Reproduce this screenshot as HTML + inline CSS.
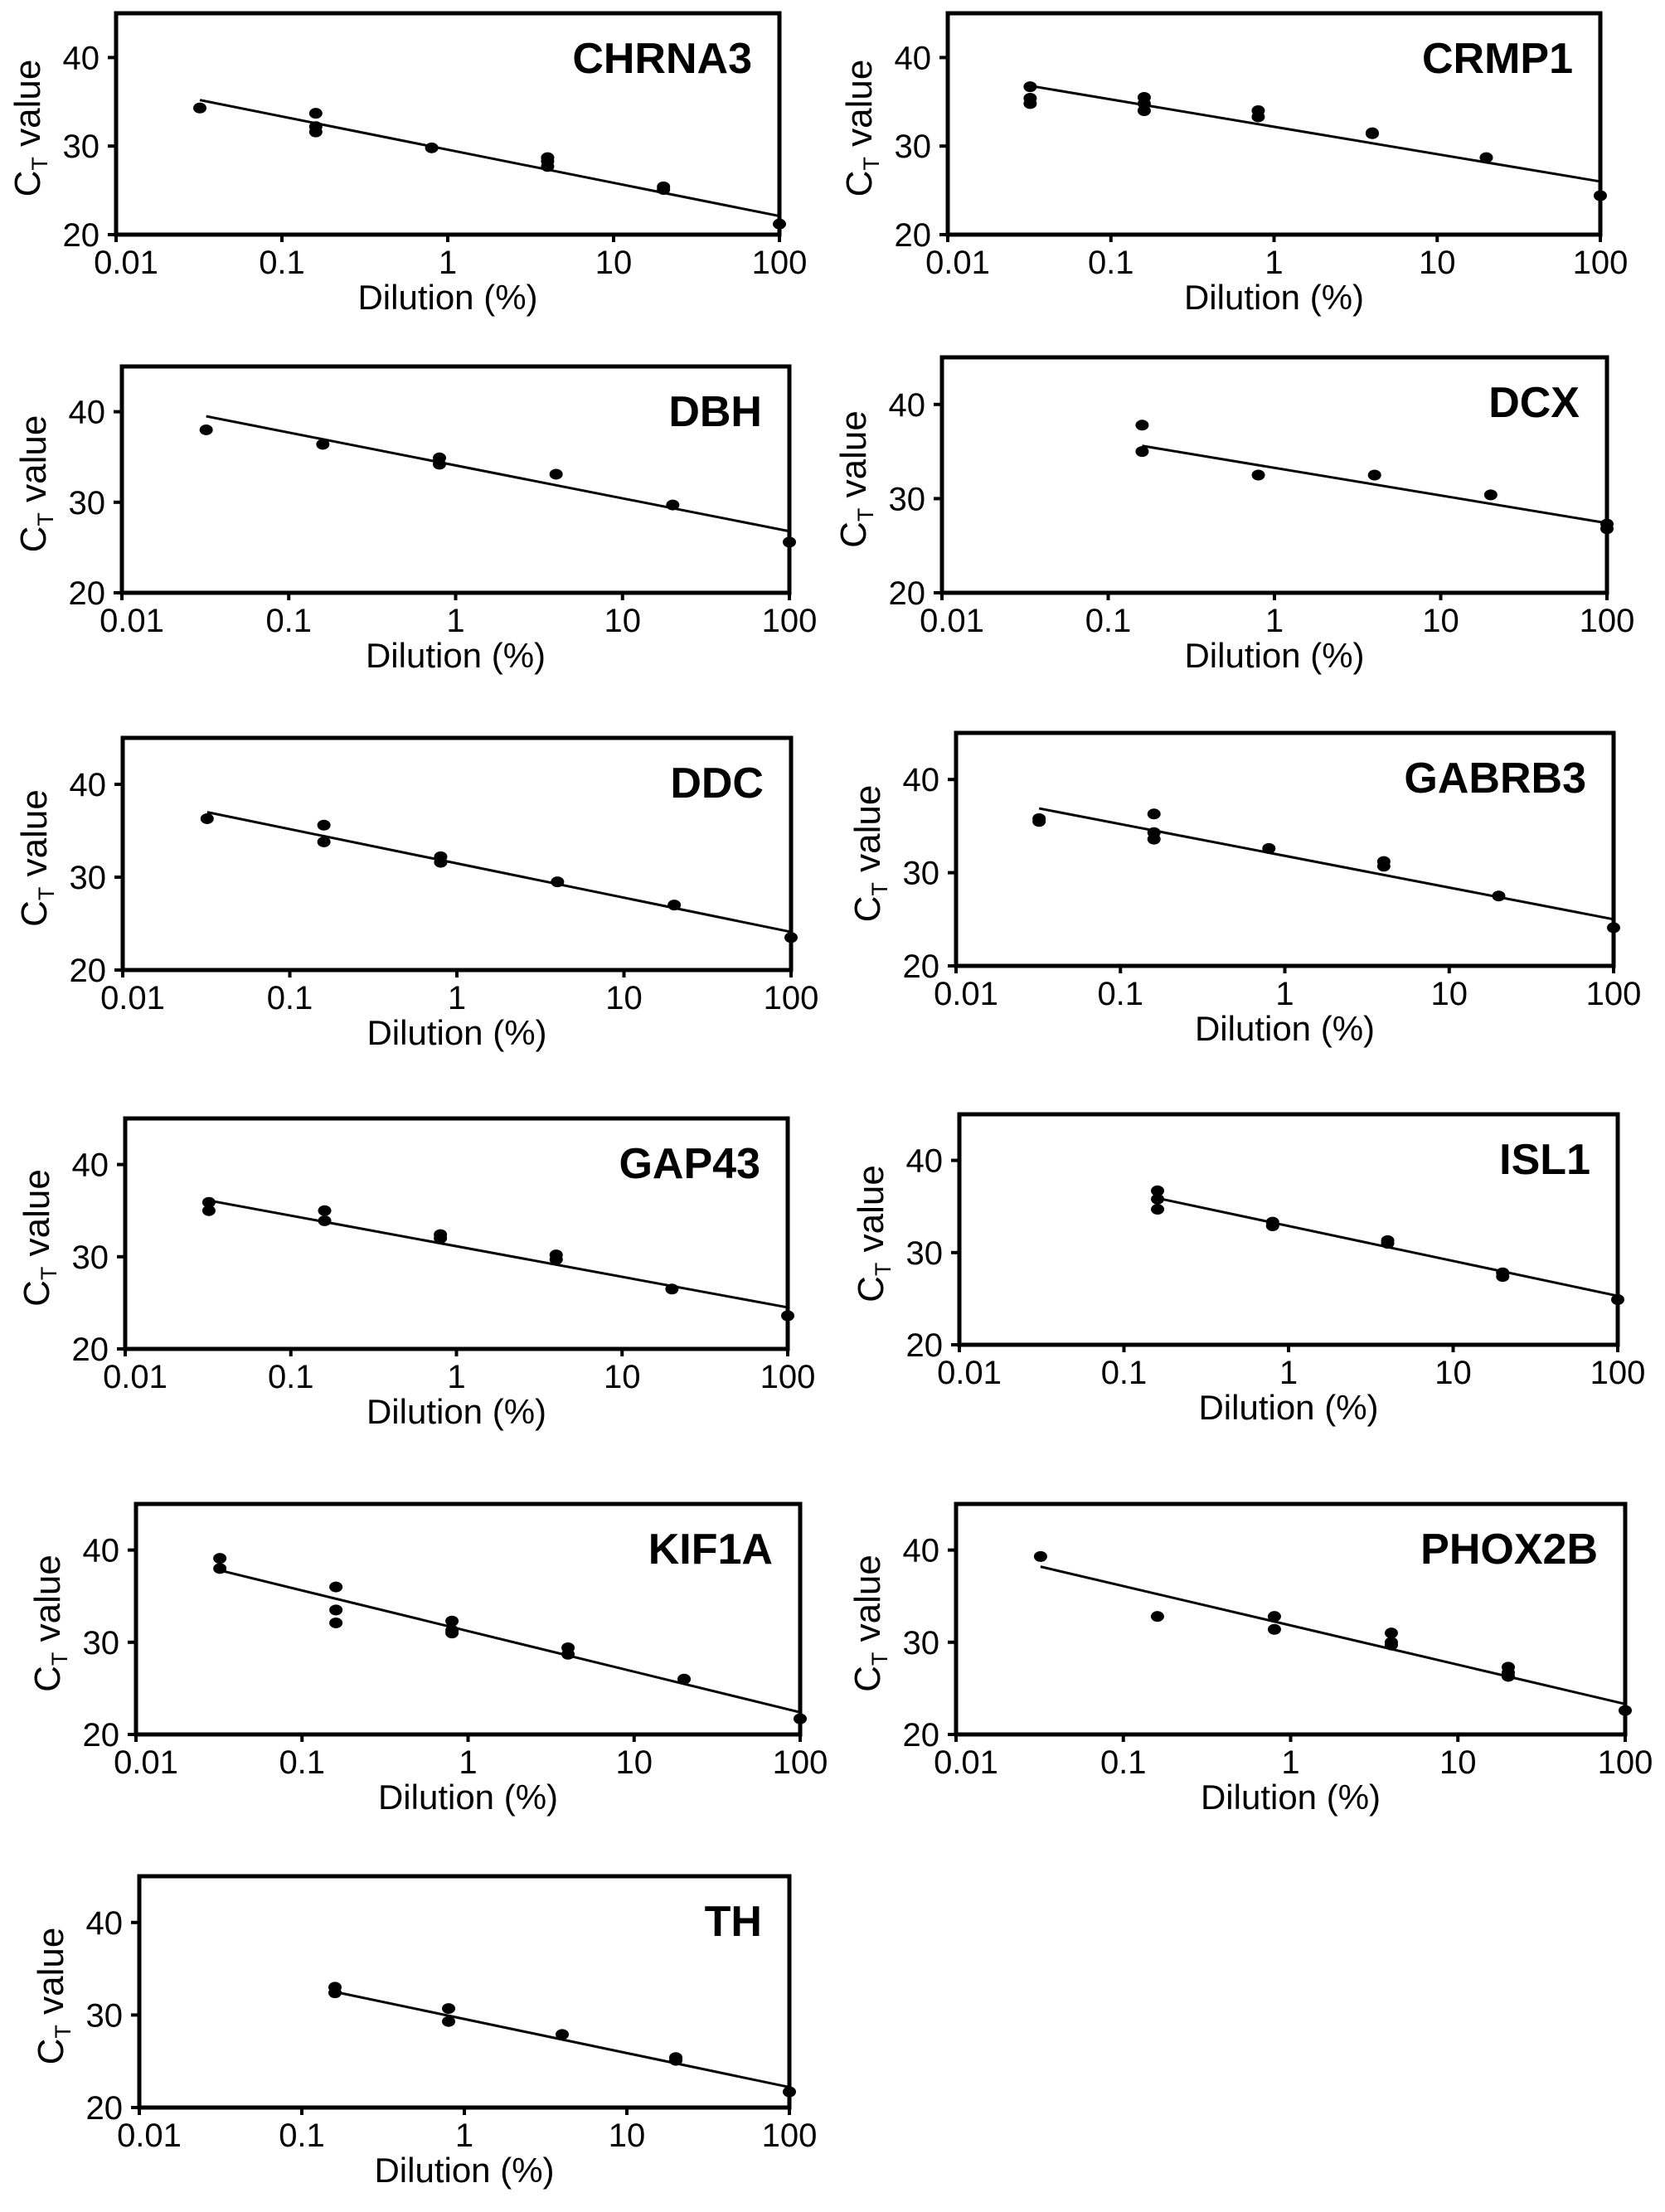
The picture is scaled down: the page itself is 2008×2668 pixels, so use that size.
<!DOCTYPE html>
<html><head><meta charset="utf-8"><style>
html,body{margin:0;padding:0;background:#fff;}
svg{display:block;font-family:"Liberation Sans",Arial,sans-serif;}
</style></head><body>
<svg id="fig" xmlns="http://www.w3.org/2000/svg" width="2008" height="2668" viewBox="0 0 2008 2668"></svg>
<script>
// ---- data ----
const geneNames = ["CHRNA3","CRMP1","DBH","DCX","DDC","GABRB3","GAP43","ISL1","KIF1A","PHOX2B","TH"];
const xTickValues = [0.01,0.1,1,10,100];
const xTickLabels = ["0.01","0.1","1","10","100"];
const yTickValues = [20,30,40];
const yTickLabels = ["20","30","40"];

const chrna3X = [0.032,0.16,0.16,0.16,0.8,4,4,4,20,20,100];
const chrna3Y = [34.3,33.7,32.2,31.6,29.8,28.7,28.3,27.7,25.4,25.1,21.2];
const chrna3Fit = [0.032,35.2,100,22.1];
const crmp1X = [0.032,0.032,0.032,0.16,0.16,0.16,0.8,0.8,4,4,20,100];
const crmp1Y = [36.7,35.4,34.8,35.5,34.8,34.0,34.0,33.3,31.5,31.4,28.7,24.4];
const crmp1Fit = [0.032,36.8,100,26.0];
const dbhX = [0.032,0.16,0.8,0.8,4,20,100];
const dbhY = [38.0,36.4,34.9,34.2,33.1,29.7,25.6];
const dbhFit = [0.032,39.5,100,26.8];
const dcxX = [0.16,0.16,0.8,4,20,100,100];
const dcxY = [37.8,35.0,32.5,32.5,30.4,27.3,26.8];
const dcxFit = [0.16,35.6,100,27.4];
const ddcX = [0.032,0.16,0.16,0.8,0.8,4,20,100];
const ddcY = [36.3,35.6,33.8,32.2,31.6,29.5,27.0,23.5];
const ddcFit = [0.032,37.0,100,24.1];
const gabrb3X = [0.032,0.032,0.16,0.16,0.16,0.8,4,4,20,100];
const gabrb3Y = [35.5,35.8,36.3,34.3,33.6,32.6,31.2,30.7,27.5,24.1];
const gabrb3Fit = [0.032,36.9,100,25.0];
const gap43X = [0.032,0.032,0.16,0.16,0.8,0.8,4,4,20,100];
const gap43Y = [35.9,35.0,35.0,33.9,32.4,32.0,30.2,29.7,26.5,23.6];
const gap43Fit = [0.032,36.1,100,24.5];
const isl1X = [0.16,0.16,0.16,0.8,0.8,4,4,20,20,100];
const isl1Y = [36.7,35.8,34.7,33.3,32.9,31.3,31.0,27.8,27.4,24.9];
const isl1Fit = [0.16,35.9,100,25.3];
const kif1aX = [0.032,0.032,0.16,0.16,0.16,0.8,0.8,0.8,4,4,20,100];
const kif1aY = [39.1,38.0,36.0,33.5,32.1,32.3,31.3,31.0,29.4,28.7,26.0,21.7];
const kif1aFit = [0.032,37.8,100,22.4];
const phox2bX = [0.032,0.16,0.8,0.8,4,4,4,20,20,20,100];
const phox2bY = [39.3,32.8,32.8,31.4,31.0,30.0,29.7,27.3,26.7,26.3,22.6];
const phox2bFit = [0.032,38.2,100,23.3];
const thX = [0.16,0.16,0.8,0.8,4,20,20,100];
const thY = [33.0,32.4,30.7,29.3,27.9,25.4,25.1,21.7];
const thFit = [0.16,32.5,100,22.2];

const seriesX = [chrna3X,crmp1X,dbhX,dcxX,ddcX,gabrb3X,gap43X,isl1X,kif1aX,phox2bX,thX];
const seriesY = [chrna3Y,crmp1Y,dbhY,dcxY,ddcY,gabrb3Y,gap43Y,isl1Y,kif1aY,phox2bY,thY];
const fits = [chrna3Fit,crmp1Fit,dbhFit,dcxFit,ddcFit,gabrb3Fit,gap43Fit,isl1Fit,kif1aFit,phox2bFit,thFit];

// ---- layout (pixel frames: left(0.01), right(100), top(45), bottom(20)) ----
const frames = [
 [140,940,16,283],[1143,1930,16,283],
 [147,952,442,715],[1136,1938,431,715],
 [148,954,890,1170],[1153,1946,884,1165],
 [151,950,1349,1627],[1157,1951,1344,1622],
 [164,965,1814,2092],[1153,1960,1814,2092],
 [168,952,2263,2542]
];
const NS="http://www.w3.org/2000/svg";
const svg=document.getElementById('fig');
function mk(tag,attrs,parent){const e=document.createElementNS(NS,tag);for(const k in attrs)e.setAttribute(k,attrs[k]);parent.appendChild(e);return e;}

frames.forEach((f,i)=>{
  const [L,R,T,B]=f;
  const xs=v=>L+(Math.log10(v)+2)/4*(R-L);
  const ys=v=>B-(v-20)/25*(B-T);
  const slug=geneNames[i].toLowerCase();
  const g=mk('g',{},svg);
  
  
  const fr=mk('rect',{x:L,y:T,width:R-L,height:B-T,fill:'none',stroke:'#000','stroke-width':5},g);
  
  
  yTickValues.forEach((v,j)=>{
    const t=mk('line',{x1:L-10,x2:L,y1:ys(v),y2:ys(v),stroke:'#000','stroke-width':4},g);
    
    
    const tx=mk('text',{x:L-20,y:ys(v)+14,'font-size':40,'text-anchor':'end'},g);
    tx.textContent=yTickLabels[j];
    
    
  });
  xTickValues.forEach((v,j)=>{
    const t=mk('line',{x1:xs(v),x2:xs(v),y1:B,y2:B+9,stroke:'#000','stroke-width':4},g);
    
    
    const tx=mk('text',{x:xs(v)+(j===0?12:0),y:B+47,'font-size':40,'text-anchor':'middle'},g);
    tx.textContent=xTickLabels[j];
    
    
  });
  const fit=fits[i];
  const ln=mk('line',{x1:xs(fit[0]),y1:ys(fit[1]),x2:xs(fit[2]),y2:ys(fit[3]),stroke:'#000','stroke-width':3},g);
  
  
  seriesX[i].forEach((xv,k)=>{
    const p=mk('ellipse',{cx:xs(xv),cy:ys(seriesY[i][k]),rx:8,ry:6.5,fill:'#000'},g);
    
    
  });
  const ti=mk('text',{x:R-33,y:T+72,'font-size':52,'font-weight':'bold','text-anchor':'end'},g);
  ti.textContent=geneNames[i];
  
  
  const xl=mk('text',{x:(L+R)/2,y:B+90,'font-size':42,'text-anchor':'middle'},g);
  xl.textContent='Dilution (%)';
  
  
  const cy=(T+B)/2+5, cx=L-92;
  const yl=mk('text',{x:0,y:0,'font-size':44,'text-anchor':'middle',transform:`translate(${cx},${cy}) rotate(-90)`},g);
  
  
  const s1=mk('tspan',{},yl); s1.textContent='C';
  const s2=mk('tspan',{'font-size':27,dy:9},yl); s2.textContent='T';
  const s3=mk('tspan',{dy:-9},yl); s3.textContent=' value';
});
</script>
</body></html>
